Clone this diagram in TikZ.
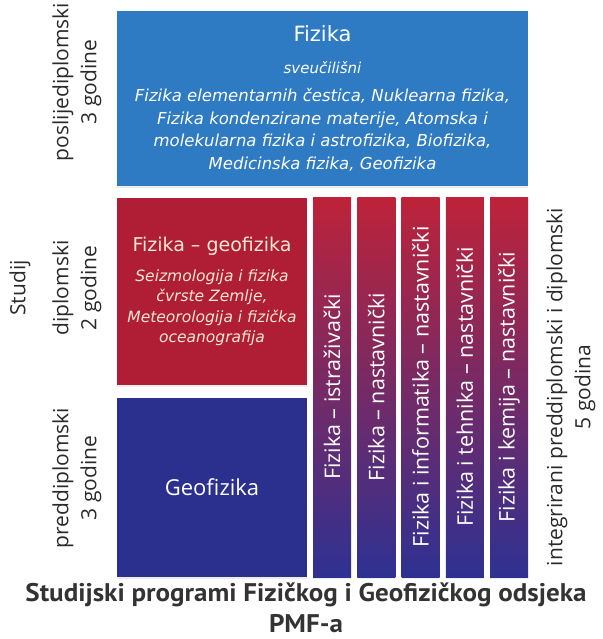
\documentclass[tikz,border=0pt]{standalone}
\usepackage{fontspec}
\usepackage{tikz}
\usetikzlibrary{shadows}
\setmainfont{DejaVu Sans}
\newfontfamily\sidefont{Open Sans}
\newfontfamily\capfont[FakeStretch=1.06]{PT Sans}
\definecolor{fizblue}{HTML}{2F7BC3}
\definecolor{geored}{HTML}{B01E35}
\definecolor{geoblue}{HTML}{2B2F8E}
\definecolor{colred}{HTML}{BE2339}
\definecolor{colblue}{HTML}{2E3192}
\definecolor{colmid}{HTML}{84296A}
\definecolor{cream}{HTML}{F6E8D2}
\definecolor{labelgray}{HTML}{2A2A2A}
\definecolor{captgray}{HTML}{333333}

\begin{document}
\begin{tikzpicture}[x=1pt,y=-1pt]
  \tikzstyle{every node} = [inner sep=0pt, align=center]
  \tikzstyle{progbox} = [rectangle, text=white,
    drop shadow={opacity=0.15, shadow xshift=0pt, shadow yshift=-2pt}]
  \tikzstyle{sidelabel} = [rotate=90, text=labelgray,
    font=\sidefont\fontsize{21}{28}\selectfont]
  \tikzstyle{column} = [progbox, rotate=90, minimum width=380, minimum height=38,
    top color=colred, middle color=colmid, bottom color=colblue,
    font=\sidefont\fontsize{21.5}{24}\selectfont]

  \useasboundingbox (0,0) rectangle (602,639);

  % poslijediplomski
  \node[progbox, fill=fizblue, minimum width=411, minimum height=175,
    font=\itshape\fontsize{16.5}{22.5}\selectfont] (fiz) at (322.5,98.5)
    {\upshape\fontsize{21}{22}\selectfont Fizika\\[9pt]
     \fontsize{15}{20}\selectfont sveučilišni\\[6pt]
     Fizika elementarnih čestica, Nuklearna fizika,\\
     Fizika kondenzirane materije, Atomska i\\
     molekularna fizika i astrofizika, Biofizika,\\
     Medicinska fizika, Geofizika};

  % diplomski
  \node[progbox, fill=geored, text=cream, minimum width=190, minimum height=187,
    font=\itshape\fontsize{15.5}{20.5}\selectfont] (geofiz) at (212,291.5)
    {\upshape\fontsize{19}{20}\selectfont Fizika – geofizika\\[9pt]
     Seizmologija i fizika\\
     čvrste Zemlje,\\
     Meteorologija i fizička\\
     oceanografija};

  % preddiplomski
  \node[progbox, fill=geoblue, minimum width=190, minimum height=179,
    font=\sidefont\fontsize{22}{24}\selectfont] (geo) at (212,487.5) {Geofizika};

  % integrirani
  \foreach \lbl [count=\i from 0] in {Fizika – istraživački, Fizika – nastavnički,
      Fizika i informatika – nastavnički, Fizika i tehnika – nastavnički,
      Fizika i kemija – nastavnički}{
    \node[column] (col\i) at ({332+44.25*\i},387) {\lbl};
  }

  \node[sidelabel] (postlab) at (77,82) {poslijediplomski\\3 godine};
  \node[sidelabel] (studlab) at (20,288) {Studij};
  \node[sidelabel] (diplab) at (77,288) {diplomski\\2 godine};
  \node[sidelabel] (predlab) at (77,478) {preddiplomski\\3 godine};
  \node[sidelabel] (intlab) at (571,387) {integrirani preddiplomski i diplomski\\5 godina};

  \node[text=captgray, font=\capfont\bfseries\fontsize{25.5}{31}\selectfont] (capt)
    at (306,608) {Studijski programi Fizičkog i Geofizičkog odsjeka\\PMF-a};
\end{tikzpicture}
\end{document}
